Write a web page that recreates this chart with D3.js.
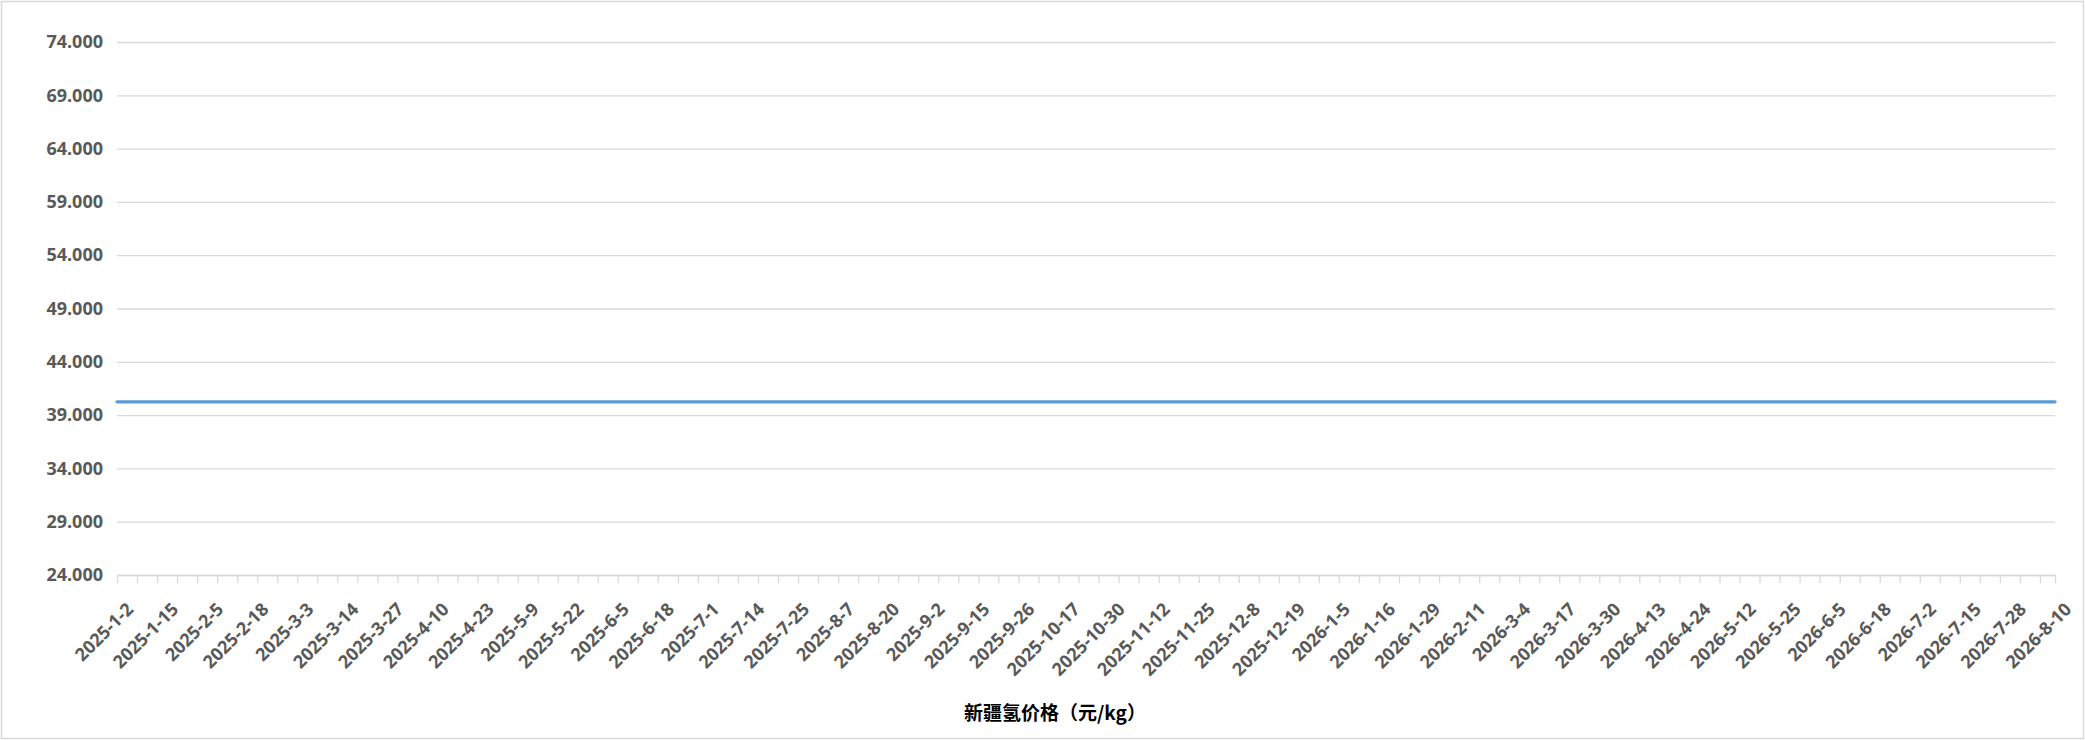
<!DOCTYPE html>
<html>
<head>
<meta charset="utf-8">
<script src="https://cdn.jsdelivr.net/npm/d3@7"></script>
<style>
  body { margin: 0; background: #fff; }
  svg { display: block; }
</style>
</head>
<body>
<div id="chart"></div>
<script>
const width = 2085;
const height = 740;
const margin = { top: 42, right: 30, bottom: 165, left: 117 };

// category labels shown on the x axis (every 9th trading day)
const dateLabels = [
    "2025-1-2", "2025-1-15", "2025-2-5", "2025-2-18", "2025-3-3", "2025-3-14",
    "2025-3-27", "2025-4-10", "2025-4-23", "2025-5-9", "2025-5-22", "2025-6-5",
    "2025-6-18", "2025-7-1", "2025-7-14", "2025-7-25", "2025-8-7", "2025-8-20",
    "2025-9-2", "2025-9-15", "2025-9-26", "2025-10-17", "2025-10-30", "2025-11-12",
    "2025-11-25", "2025-12-8", "2025-12-19", "2026-1-5", "2026-1-16", "2026-1-29",
    "2026-2-11", "2026-3-4", "2026-3-17", "2026-3-30", "2026-4-13", "2026-4-24",
    "2026-5-12", "2026-5-25", "2026-6-5", "2026-6-18", "2026-7-2", "2026-7-15",
    "2026-7-28", "2026-8-10"
];

// price at each labelled date (元/kg)
const prices = [
    40.25, 40.25, 40.25, 40.25, 40.25, 40.25, 40.25, 40.25, 40.25, 40.25, 40.25,
    40.25, 40.25, 40.25, 40.25, 40.25, 40.25, 40.25, 40.25, 40.25, 40.25, 40.25,
    40.25, 40.25, 40.25, 40.25, 40.25, 40.25, 40.25, 40.25, 40.25, 40.25, 40.25,
    40.25, 40.25, 40.25, 40.25, 40.25, 40.25, 40.25, 40.25, 40.25, 40.25, 40.25
];

const yTicks = [24, 29, 34, 39, 44, 49, 54, 59, 64, 69, 74];
const title = "新疆氢价格（元/kg）";

const labelStep = 9;   // trading days between labels
const tickStep = 4;    // trading days between tick marks
const lastIndex = (dateLabels.length - 1) * labelStep;

const svg = d3.select("#chart")
    .append("svg")
    .attr("width", width)
    .attr("height", height);

// outer border
svg.append("rect")
    .attr("x", 1.5)
    .attr("y", 1.5)
    .attr("width", width - 3)
    .attr("height", height - 3)
    .style("fill", "#fff")
    .style("stroke", "#d9d9d9")
    .style("stroke-width", 1.5);

const x = d3.scaleLinear()
    .domain([0, lastIndex])
    .range([margin.left, width - margin.right]);

const y = d3.scaleLinear()
    .domain([24, 74])
    .range([height - margin.bottom, margin.top]);

// gridlines + y labels
const yAxis = svg.append("g")
    .attr("transform", `translate(${margin.left},0)`)
    .call(d3.axisLeft(y)
        .tickValues(yTicks)
        .tickFormat(d3.format(".3f"))
        .tickSize(-(width - margin.left - margin.right))
        .tickPadding(14));

yAxis.select(".domain").remove();
yAxis.selectAll(".tick line")
    .style("stroke", "#d9d9d9")
    .style("stroke-width", 1.3);
yAxis.selectAll(".tick text")
    .style("font-family", "'Open Sans', 'Noto Sans', sans-serif")
    .style("font-weight", 700)
    .style("font-size", "18px")
    .style("fill", "#595959");

// x axis line and tick marks
const tickIdx = d3.range(0, lastIndex + 1, tickStep);
if (tickIdx[tickIdx.length - 1] !== lastIndex) tickIdx.push(lastIndex);

const xAxis = svg.append("g")
    .attr("transform", `translate(0,${y(24)})`)
    .call(d3.axisBottom(x)
        .tickValues(tickIdx)
        .tickSize(8)
        .tickSizeOuter(0)
        .tickFormat(""));

xAxis.select(".domain")
    .style("stroke", "#d9d9d9")
    .style("stroke-width", 1.3);
xAxis.selectAll(".tick line")
    .style("stroke", "#d9d9d9")
    .style("stroke-width", 1.3);

// rotated date labels
svg.append("g")
    .selectAll("text")
    .data(dateLabels)
    .enter()
    .append("text")
    .attr("transform", (d, i) => `translate(${x(i * labelStep) + 13},${y(24) + 31}) rotate(-45)`)
    .attr("dy", "0.35em")
    .style("text-anchor", "end")
    .style("font-family", "'Open Sans', 'Noto Sans', sans-serif")
    .style("font-weight", 700)
    .style("font-size", "18px")
    .style("fill", "#595959")
    .text(d => d);

// price line
const line = d3.line()
    .x((d, i) => x(i * labelStep))
    .y(d => y(d));

svg.append("path")
    .datum(prices)
    .attr("d", line)
    .style("fill", "none")
    .style("stroke", "#5b9bd5")
    .style("stroke-width", 3.3)
    .style("stroke-linecap", "round");

// bottom title
svg.append("text")
    .attr("x", 1055)
    .attr("y", 720)
    .style("text-anchor", "middle")
    .style("font-family", "'Noto Sans CJK SC', sans-serif")
    .style("font-weight", 700)
    .style("font-size", "19px")
    .style("fill", "#000")
    .text(title);
</script>
</body>
</html>
